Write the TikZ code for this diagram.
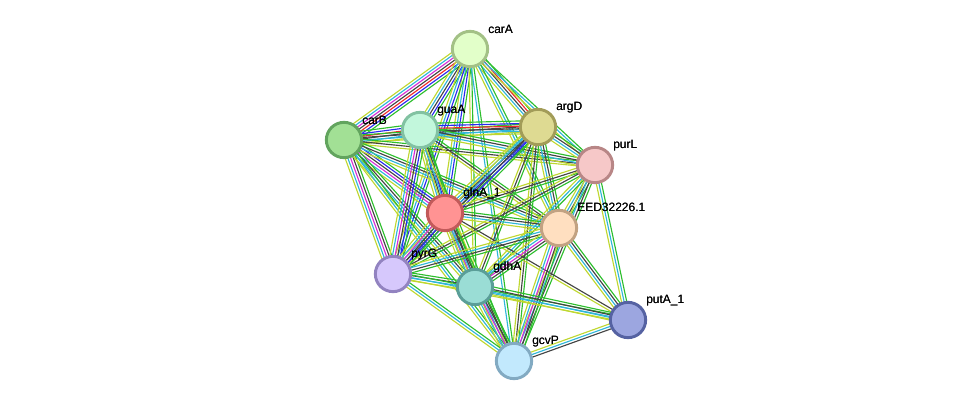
\documentclass[tikz,border=0pt]{standalone}
\usepackage{fontspec}
\setmainfont{Liberation Sans}
\usepackage{pdfrender}
\newcommand{\halo}[1]{\rlap{\textpdfrender{TextRenderingMode=Stroke,LineWidth=2.2pt,StrokeColor=white,LineJoin=1}{#1}}#1}
\usetikzlibrary{calc,backgrounds}
\definecolor{snbh}{HTML}{2DBE2D}
\definecolor{stxt}{HTML}{BFD730}
\definecolor{sdbs}{HTML}{2FB6D9}
\definecolor{scoe}{HTML}{444444}
\definecolor{sexp}{HTML}{D62FD6}
\definecolor{scoo}{HTML}{2A2AF0}
\definecolor{sfus}{HTML}{F02A2A}
\definecolor{carAf}{HTML}{E2FFC9}\definecolor{carAd}{HTML}{A3C186}
\definecolor{argDf}{HTML}{DEDA92}\definecolor{argDd}{HTML}{A29C58}
\definecolor{purLf}{HTML}{F6C8C8}\definecolor{purLd}{HTML}{B88686}
\definecolor{carBf}{HTML}{A2E095}\definecolor{carBd}{HTML}{62A45E}
\definecolor{guaAf}{HTML}{C2F7DC}\definecolor{guaAd}{HTML}{82C2A2}
\definecolor{glnAf}{HTML}{FF9393}\definecolor{glnAd}{HTML}{C25A5A}
\definecolor{eedf}{HTML}{FFDFC0}\definecolor{eedd}{HTML}{C2A282}
\definecolor{pyrGf}{HTML}{D6C8FC}\definecolor{pyrGd}{HTML}{9283C0}
\definecolor{gdhAf}{HTML}{9ADDD5}\definecolor{gdhAd}{HTML}{5A9E98}
\definecolor{putAf}{HTML}{9CA6E0}\definecolor{putAd}{HTML}{5562A2}
\definecolor{gcvPf}{HTML}{C2E9FD}\definecolor{gcvPd}{HTML}{82AAC2}
\newcommand{\strlink}[3]{%
  \foreach \c [count=\k] in {#3} {\xdef\nlk{\k}}%
  \foreach \c [count=\k] in {#3} {%
    \pgfmathsetmacro\off{(\k-(\nlk+1)/2)*1.95}%
    \draw[link,color=\c] ($(#1.center)!\off pt!90:(#2.center)$) -- ($(#2.center)!\off pt!-90:(#1.center)$);}}
\tikzset{
  prot/.style={circle,draw=#1d,fill=#1f,line width=2.2pt,minimum size=26.5pt,inner sep=0pt},
  lbl/.style={anchor=base west,inner sep=0pt,font=\fontsize{9}{10}\selectfont},
  link/.style={line width=0.85pt}
}
\begin{document}
\begin{tikzpicture}[x=0.75pt,y=-0.75pt]
    \useasboundingbox (0,0) rectangle (976,407);
    \node[prot=carA] (carA) at (470,49) {};
    \node[prot=argD] (argD) at (538,127) {};
    \node[prot=purL] (purL) at (595,165) {};
    \node[prot=carB] (carB) at (344,140) {};
    \node[prot=guaA] (guaA) at (420,130) {};
    \node[prot=glnA] (glnA) at (445,213) {};
    \node[prot=eed] (eed) at (559,228) {};
    \node[prot=pyrG] (pyrG) at (393,274) {};
    \node[prot=gdhA] (gdhA) at (475,287) {};
    \node[prot=putA] (putA) at (628,320) {};
    \node[prot=gcvP] (gcvP) at (514,361) {};
    \node[lbl] (carA-l) at (488,33) {\halo{carA}};
    \node[lbl] (argD-l) at (556,110) {\halo{argD}};
    \node[lbl] (purL-l) at (613,148) {\halo{purL}};
    \node[lbl] (carB-l) at (362,124) {\halo{carB}};
    \node[lbl] (guaA-l) at (437,113) {\halo{guaA}};
    \node[lbl] (glnA-l) at (463,196) {\halo{glnA\_1}};
    \node[lbl] (eed-l) at (577,211) {\halo{EED32226.1}};
    \node[lbl] (pyrG-l) at (411,257) {\halo{pyrG}};
    \node[lbl] (gdhA-l) at (493,270) {\halo{gdhA}};
    \node[lbl] (putA-l) at (646,303) {\halo{putA\_1}};
    \node[lbl] (gcvP-l) at (532,344) {\halo{gcvP}};
    \begin{pgfonlayer}{background}
    \strlink{carA}{carB}{stxt,sdbs,sexp,scoe,sfus,scoo,snbh}
    \strlink{carA}{guaA}{stxt,sdbs,scoe,scoo,snbh}
    \strlink{carA}{argD}{stxt,sdbs,scoe,sfus,snbh}
    \strlink{carA}{purL}{stxt,sdbs,snbh}
    \strlink{carA}{glnA}{stxt,sdbs,scoo,snbh}
    \strlink{carA}{eed}{stxt,sdbs,snbh}
    \strlink{carA}{pyrG}{stxt,sdbs,scoo,snbh}
    \strlink{carA}{gdhA}{stxt,snbh}
    \strlink{carA}{gcvP}{sdbs,snbh}
    \strlink{carB}{guaA}{stxt,sdbs,scoe,sfus,scoo,snbh}
    \strlink{carB}{argD}{stxt,sdbs,scoe,snbh}
    \strlink{carB}{purL}{stxt,scoe,snbh}
    \strlink{carB}{glnA}{stxt,sdbs,sexp,scoe,scoo,snbh}
    \strlink{carB}{eed}{stxt,sdbs,scoe,snbh}
    \strlink{carB}{pyrG}{stxt,sdbs,sexp,scoe,snbh}
    \strlink{carB}{gdhA}{stxt,sdbs,scoe,snbh}
    \strlink{carB}{gcvP}{stxt,sdbs,snbh}
    \strlink{guaA}{argD}{stxt,sdbs,scoe,sfus,scoo,snbh}
    \strlink{guaA}{purL}{stxt,sdbs,scoe,snbh}
    \strlink{guaA}{glnA}{stxt,sdbs,scoe,scoo,snbh}
    \strlink{guaA}{eed}{stxt,scoe,snbh}
    \strlink{guaA}{pyrG}{stxt,sdbs,sexp,scoe,scoo,snbh}
    \strlink{guaA}{gdhA}{stxt,sdbs,scoe,snbh}
    \strlink{guaA}{gcvP}{stxt,snbh}
    \strlink{argD}{purL}{stxt,sdbs,scoe,snbh}
    \strlink{argD}{glnA}{stxt,sdbs,scoe,scoo,snbh}
    \strlink{argD}{eed}{stxt,sdbs,scoe,snbh}
    \strlink{argD}{pyrG}{stxt,sdbs,scoe,scoo,snbh}
    \strlink{argD}{gdhA}{stxt,scoe,snbh}
    \strlink{argD}{gcvP}{stxt,scoe,snbh}
    \strlink{purL}{glnA}{stxt,scoe,snbh}
    \strlink{purL}{eed}{stxt,sdbs,scoe,snbh}
    \strlink{purL}{pyrG}{stxt,scoe,snbh}
    \strlink{purL}{gdhA}{stxt,sdbs,snbh}
    \strlink{purL}{putA}{stxt,sdbs,snbh}
    \strlink{purL}{gcvP}{stxt,sdbs,scoe,snbh}
    \strlink{glnA}{eed}{stxt,sdbs,scoe,snbh}
    \strlink{glnA}{pyrG}{stxt,sdbs,sexp,scoe,scoo,snbh}
    \strlink{glnA}{gdhA}{stxt,sdbs,sexp,scoe,snbh}
    \strlink{glnA}{putA}{stxt,scoe}
    \strlink{glnA}{gcvP}{stxt,sdbs,scoe,snbh}
    \strlink{eed}{pyrG}{stxt,sdbs,scoe,snbh}
    \strlink{eed}{gdhA}{stxt,sdbs,sexp,scoe,snbh}
    \strlink{eed}{putA}{stxt,sdbs,scoe,snbh}
    \strlink{eed}{gcvP}{stxt,sdbs,sexp,scoe,snbh}
    \strlink{pyrG}{gdhA}{stxt,sdbs,scoe,snbh}
    \strlink{pyrG}{putA}{stxt,sdbs,snbh}
    \strlink{pyrG}{gcvP}{stxt,sdbs,snbh}
    \strlink{gdhA}{putA}{stxt,sdbs,scoe,snbh}
    \strlink{gdhA}{gcvP}{stxt,sdbs,sexp,scoe,snbh}
    \strlink{putA}{gcvP}{stxt,sdbs,scoe}
    \end{pgfonlayer}
\end{tikzpicture}
\end{document}
